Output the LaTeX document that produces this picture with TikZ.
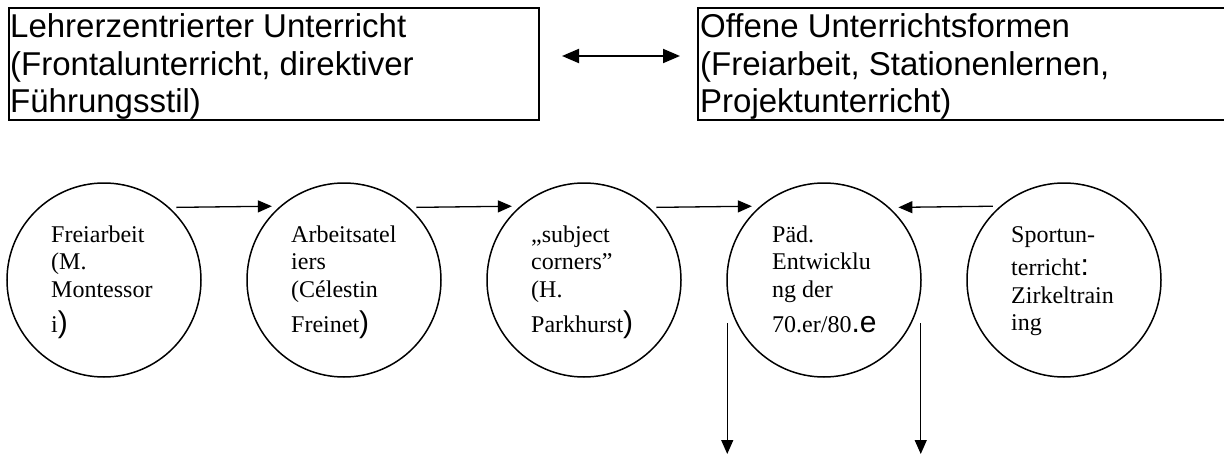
\documentclass[tikz,border=0pt]{standalone}
\usepackage{fontspec}
\setmainfont{Liberation Serif}
\setsansfont{Liberation Sans}
\usetikzlibrary{arrows.meta,calc}

% a few closing glyphs are set larger and in the sans face
\newcommand{\bigsym}[1]{{\sffamily\fontsize{30}{30}\selectfont #1}}

\begin{document}
\begin{tikzpicture}[x=1pt,y=1pt,
  frame/.style={draw, line width=2pt, minimum width=530pt, minimum height=112pt, anchor=north west, inner sep=0},
  boxtext/.style={anchor=base west, inner sep=0, font=\sffamily\fontsize{33}{38}\selectfont},
  stage/.style={draw, circle, line width=1.5pt, minimum size=194pt, inner sep=0},
  stagetext/.style={anchor=base west, inner sep=0, font=\fontsize{24}{27.5}\selectfont},
  flow/.style={-{Triangle[length=14pt,width=12pt]}, line width=1.3pt},
  swap/.style={{Triangle[length=17pt,width=14pt]}-{Triangle[length=17pt,width=14pt]}, line width=2pt}]

\useasboundingbox (0,0) rectangle (1224,-455);

% the two teaching styles (the right frame runs past the page edge)
\node[frame] (box1) at (8,-6.5) {};
\node[frame] (box2) at (697,-6.5) {};
\node[boxtext] (box1text) at (10,-37) {\parbox[t]{525pt}{\raggedright
  Lehrerzentrierter Unterricht\\(Frontalunterricht, direktiver\\Führungsstil)}};
\node[boxtext] (box2text) at (700,-37) {\parbox[t]{520pt}{\raggedright
  Offene Unterrichtsformen\\(Freiarbeit, Stationenlernen,\\Projektunterricht)}};
\draw[swap] ([shift={(22pt,7.5pt)}]box1.east) -- ([shift={(-17pt,7.5pt)}]box2.west);

% historical roots
\node[stage] (c1) at (104,-280) {};
\node[stage] (c2) at (344,-280) {};
\node[stage] (c3) at (584,-280) {};
\node[stage] (c4) at (824,-280) {};
\node[stage] (c5) at (1064,-280) {};

\node[stagetext] (t1) at ($(c1.center)+(-53,38)$) {\parbox[t]{120pt}{\raggedright
  Freiarbeit\\(M.\\Montessor\\[7.5pt]i\bigsym{)}}};
\node[stagetext] (t2) at ($(c2.center)+(-53,38)$) {\parbox[t]{120pt}{\raggedright
  Arbeitsatel\\iers\\(Célestin\\[7.5pt]Freinet\bigsym{)}}};
\node[stagetext] (t3) at ($(c3.center)+(-53,38)$) {\parbox[t]{120pt}{\raggedright
  „subject\\corners”\\(H.\\[7.5pt]Parkhurst\bigsym{)}}};
\node[stagetext] (t4) at ($(c4.center)+(-52,38)$) {\parbox[t]{120pt}{\raggedright
  Päd.\\Entwicklu\\ng der\\[7.5pt]70.er/80\bigsym{.e}}};
\node[stagetext] (t5) at ($(c5.center)+(-53,38)$) {\parbox[t]{120pt}{\raggedright
  Sportun-\\[6pt]terricht\bigsym{:}\\Zirkeltrain\\ing}};

\draw[flow] ([xshift=7pt]c1.48.8) -- ([xshift=-8pt]c2.131.2);
\draw[flow] ([xshift=7pt]c2.48.8) -- ([xshift=-8pt]c3.131.2);
\draw[flow] ([xshift=7pt]c3.48.8) -- ([xshift=-8pt]c4.131.2);
\draw[flow] ([xshift=-7pt]c5.131.2) -- ([xshift=9pt]c4.48.8);

\coordinate (d1) at ($(c4.west)+(1,-174)$);
\coordinate (d2) at ($(c4.east)+(-1,-174)$);
\draw[flow] ($(c4.west)+(1,-43)$) -- (d1);
\draw[flow] ($(c4.east)+(-1,-43)$) -- (d2);
\end{tikzpicture}
\end{document}
